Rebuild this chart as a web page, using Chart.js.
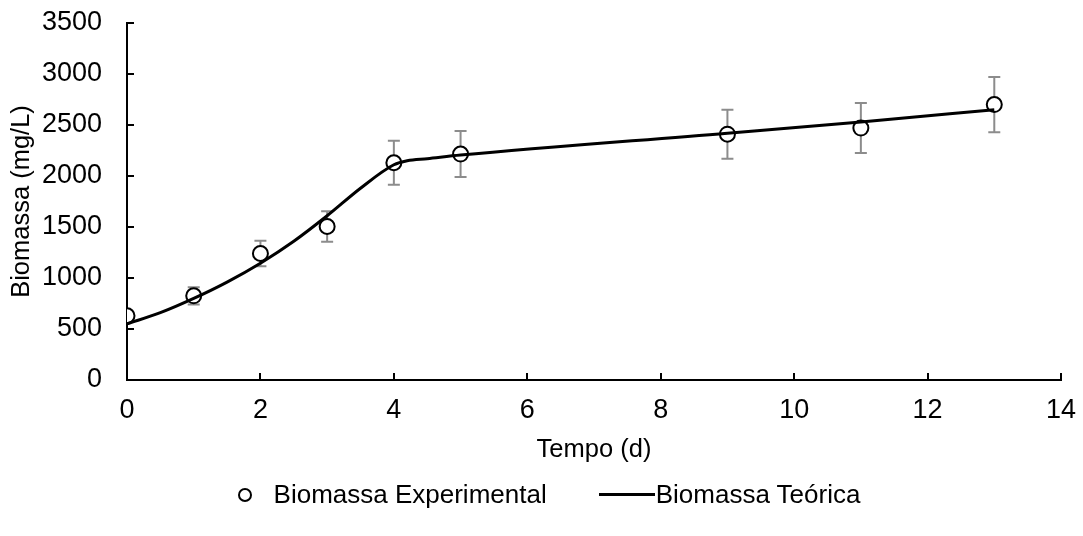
<!DOCTYPE html>
<html>
<head>
<meta charset="utf-8">
<script src="https://cdn.jsdelivr.net/npm/chart.js@4.4.1/dist/chart.umd.min.js"></script>
<style>
    html, body { margin: 0; padding: 0; background: #fff; }
    #wrap { position: relative; width: 1083px; height: 536px; }
    #legend {
        position: absolute; left: 15px; right: 0; top: 479px;
        display: flex; justify-content: center; align-items: center;
        font-family: "Liberation Sans", Arial, sans-serif; font-size: 26px; color: #000;
    }
    .item { display: flex; align-items: center; }
    .dot { width: 10px; height: 10px; border: 2px solid #000; border-radius: 50%; margin-right: 22px; }
    .ln { width: 56px; height: 3px; background: #000; margin-right: 1px; }
</style>
</head>
<body>
<div id="wrap">
    <canvas id="biomassChart" width="1083" height="536"></canvas>
    <div id="legend">
        <div class="item" style="margin-right:52px"><span class="dot"></span>Biomassa Experimental</div>
        <div class="item"><span class="ln"></span>Biomassa Teórica</div>
    </div>
</div>
<script>
const expDays = [0, 1, 2, 3, 4, 5, 9, 11, 13];
const expBiomass = [630, 825, 1240, 1505, 2130, 2215, 2410, 2470, 2700];
const expError = [0, 85, 125, 150, 215, 225, 240, 245, 270];

// Theoretical model curve
const modelDays = [0, 0.5, 1, 1.5, 2, 2.5, 3, 3.5, 4, 4.2, 4.5, 5, 9, 11, 13];
const modelBiomass = [550, 660, 800, 960, 1145, 1360, 1610, 1880, 2110, 2150, 2170, 2205, 2420, 2530, 2650];

const xTicks = [0, 2, 4, 6, 8, 10, 12, 14];
const yTicks = [0, 500, 1000, 1500, 2000, 2500, 3000, 3500];

const FONT = '"Liberation Sans", Arial, sans-serif';

// Error bars + inside tick marks
const extrasPlugin = {
    id: 'extras',
    beforeDatasetsDraw(chart) {
        const { ctx, scales: { x, y } } = chart;
        ctx.save();
        ctx.strokeStyle = '#8c8c8c';
        ctx.lineWidth = 2;
        expDays.forEach((d, i) => {
            if (!expError[i]) return;
            const px = x.getPixelForValue(d);
            const top = y.getPixelForValue(expBiomass[i] + expError[i]);
            const bot = y.getPixelForValue(expBiomass[i] - expError[i]);
            ctx.beginPath();
            ctx.moveTo(px, top); ctx.lineTo(px, bot);
            ctx.moveTo(px - 6, top); ctx.lineTo(px + 6, top);
            ctx.moveTo(px - 6, bot); ctx.lineTo(px + 6, bot);
            ctx.stroke();
        });
        ctx.restore();
    },
    afterDraw(chart) {
        const { ctx, scales: { x, y } } = chart;
        ctx.save();
        ctx.strokeStyle = '#000';
        ctx.lineWidth = 2;
        ctx.beginPath();
        xTicks.forEach(t => {
            const px = Math.round(x.getPixelForValue(t));
            ctx.moveTo(px, y.bottom); ctx.lineTo(px, y.bottom - 7);
        });
        yTicks.forEach(t => {
            const py = Math.round(y.getPixelForValue(t));
            ctx.moveTo(x.left, py); ctx.lineTo(x.left + 7, py);
        });
        ctx.stroke();
        ctx.restore();
    }
};

const ctx = document.getElementById('biomassChart').getContext('2d');
new Chart(ctx, {
    type: 'scatter',
    data: {
        datasets: [
            {
                label: 'Biomassa Teórica',
                data: modelDays.map((d, i) => ({ x: d, y: modelBiomass[i] })),
                showLine: true,
                borderColor: '#000',
                borderWidth: 3,
                pointRadius: 0,
                cubicInterpolationMode: 'monotone',
                order: 0
            },
            {
                label: 'Biomassa Experimental',
                data: expDays.map((d, i) => ({ x: d, y: expBiomass[i] })),
                showLine: false,
                pointRadius: 7.5,
                pointBorderWidth: 2,
                pointBorderColor: '#000',
                pointBackgroundColor: '#fff',
                order: 1
            }
        ]
    },
    options: {
        responsive: false,
        animation: false,
        layout: { padding: { top: 0, right: 0, bottom: 71, left: 3 } },
        plugins: { legend: { display: false }, tooltip: { enabled: false } },
        scales: {
            x: {
                type: 'linear',
                min: 0, max: 14,
                afterBuildTicks: s => { s.ticks = xTicks.map(v => ({ value: v })); },
                afterFit: s => { s.height = 85; s.paddingLeft = 0; s.paddingRight = 22; },
                grid: { display: false, drawTicks: false },
                border: { display: true, color: '#000', width: 2 },
                ticks: { color: '#000', font: { family: FONT, size: 27 }, padding: 14, maxRotation: 0, callback: v => String(v) },
                title: { display: true, text: 'Tempo (d)', color: '#000', font: { family: FONT, size: 25.5 }, padding: { top: 0, bottom: 0 } }
            },
            y: {
                type: 'linear',
                min: 0, max: 3500,
                afterBuildTicks: s => { s.ticks = yTicks.map(v => ({ value: v })); },
                afterFit: s => { s.width = 124; s.paddingTop = 23; s.paddingBottom = 0; },
                grid: { display: false, drawTicks: false },
                border: { display: true, color: '#000', width: 2 },
                ticks: { color: '#000', font: { family: FONT, size: 27 }, padding: 25, callback: v => String(v) },
                title: { display: true, text: 'Biomassa (mg/L)', color: '#000', font: { family: FONT, size: 25.5 }, padding: { top: 4, bottom: 0 } }
            }
        }
    },
    plugins: [extrasPlugin]
});
</script>
</body>
</html>
